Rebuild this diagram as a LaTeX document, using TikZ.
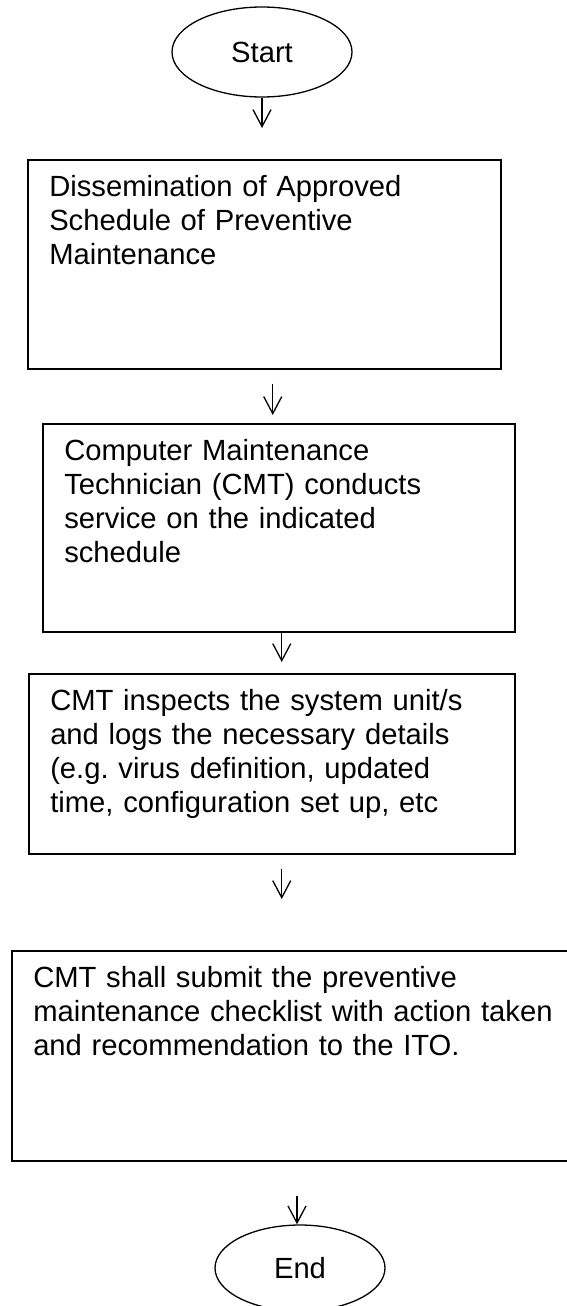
\documentclass[tikz,border=0pt]{standalone}
\usepackage{fontspec}
\setmainfont{Liberation Sans}
\usetikzlibrary{shapes.geometric,arrows.meta}
\frenchspacing

\begin{document}
\begin{tikzpicture}[x=1pt,y=-1pt,
    term/.style={draw,ellipse,line width=1.3pt,inner sep=0pt,
      font=\fontsize{29.2pt}{34pt}\selectfont},
    procbox/.style={draw,rectangle,line width=1.5pt,anchor=north west,
      align=left,inner xsep=21.5pt,inner ysep=0pt,text height=37pt,
      font=\fontsize{29.2pt}{34pt}\selectfont},
    arr/.style={line width=1.3pt,-{Straight Barb[length=17pt,width=18pt]}}]
    \useasboundingbox (0,0) rectangle (567,1306);
    % terminals and steps
    \node[term,minimum width=180pt,minimum height=90pt] (start) at (262,52) {Start};
    \node[procbox,text width=430pt,text depth=172pt] (diss) at (27,159)
      {Dissemination of Approved\\Schedule of Preventive\\Maintenance};
    \node[procbox,text width=429pt,text depth=171pt] (svc) at (42,423)
      {Computer Maintenance\\Technician (CMT) conducts\\service on the indicated\\schedule};
    \node[procbox,text width=443pt,text depth=143pt] (insp) at (28,673)
      {CMT inspects the system unit/s\\and logs the necessary details\\(e.g. virus definition, updated\\time, configuration set up, etc};
    \node[procbox,text width=536pt,text depth=173pt] (submit) at (11,950)
      {CMT shall submit the preventive\\maintenance checklist with action taken\\and recommendation to the ITO.};
    \node[term,minimum width=170pt,minimum height=86pt] (stop) at (300,1268) {End};
    % arrows
    \coordinate (a2) at ([xshift=-6pt]svc.north);
    \coordinate (a3) at ([xshift=3pt]svc.south);
    \coordinate (a4) at ([xshift=10pt]insp.south);
    \coordinate (a5) at ([xshift=-3pt]stop.north);
    \draw[arr,shorten >=31pt] (start.south) -- (start.south |- diss.north);
    \draw[arr,shorten <=14pt,shorten >=8pt] (a2 |- diss.south) -- (a2);
    \draw[arr,shorten >=11pt] (a3) -- (a3 |- insp.north);
    \draw[arr,shorten <=14pt,shorten >=51pt] (a4) -- (a4 |- submit.north);
    \draw[arr,shorten <=34pt] (a5 |- submit.south) -- (a5);
\end{tikzpicture}
\end{document}
